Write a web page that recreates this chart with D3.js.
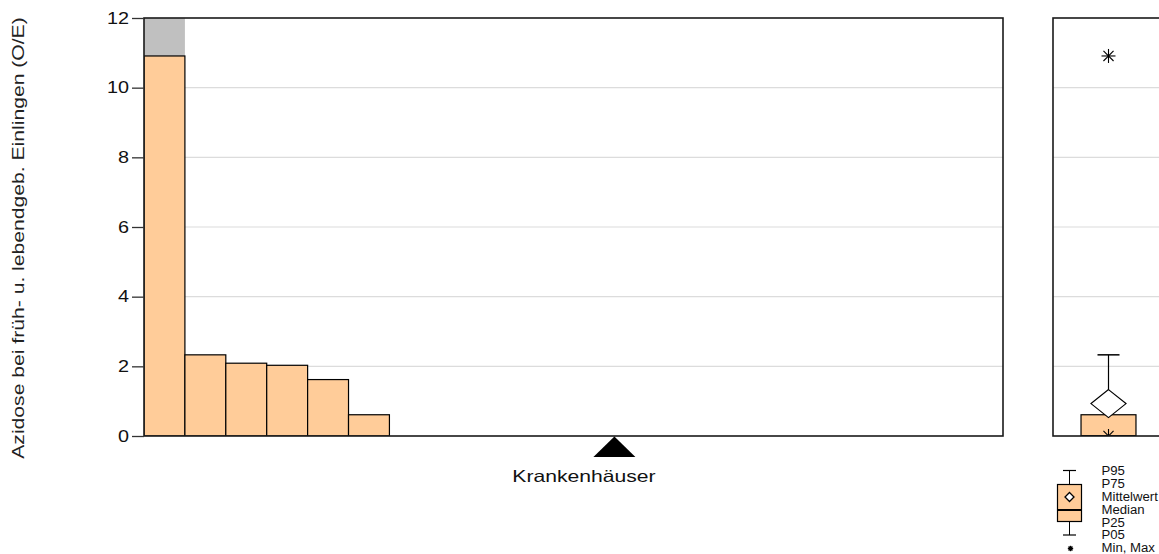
<!DOCTYPE html>
<html><head><meta charset="utf-8">
<script src="https://cdn.jsdelivr.net/npm/d3@7"></script>
<style>html,body{margin:0;padding:0;background:#fff;}svg{display:block;font-family:"Liberation Sans",Arial,sans-serif;}</style>
</head><body>
<svg id="c" width="1159" height="554"></svg>
<script>
// ---- data ----
const hospitals = ["KH01","KH02","KH03","KH04","KH05","KH06","KH07","KH08","KH09","KH10","KH11","KH12","KH13","KH14","KH15","KH16","KH17","KH18","KH19","KH20","KH21"];
const values    = [10.91, 2.33, 2.09, 2.03, 1.62, 0.61, 0, 0, 0, 0, 0, 0, 0, 0, 0, 0, 0, 0, 0, 0, 0];
const grayUpper = [12, null, null, null, null, null, null, null, null, null, null, null, null, null, null, null, null, null, null, null, null];
const markedHospital = ["KH12"];
const yTicks = [0, 2, 4, 6, 8, 10, 12];
const boxStats = {min: 0, p05: 0, p25: 0, median: 0, mean: 0.93, p75: 0.61, p95: 2.33, max: 10.91};
const legendLabels = ["P95", "P75", "Mittelwert", "Median", "P25", "P05", "Min, Max"];
const yTitle = "Azidose bei früh- u. lebendgeb. Einlingen (O/E)";
const xTitle = "Krankenhäuser";

// ---- layout ----
const svg = d3.select("#c");
const topY = 18, bottomY = 436;
const mainL = 144, mainR = 1003;
const boxL = 1053, boxR = 1164;
const peach = "#FFCC99", frame = "#1a1a1a";
const y = d3.scaleLinear().domain([0, 12]).range([bottomY, topY]);
const x = d3.scaleBand().domain(hospitals).range([mainL, mainR]).padding(0);
const xb = d3.scaleBand().domain(["all"]).range([boxL, boxR]).paddingInner(0).paddingOuter(0.51);

function stretch(sel, k){ sel.each(function(){ const w=this.getComputedTextLength(); d3.select(this).attr("textLength", w*k).attr("lengthAdjust","spacingAndGlyphs"); }); }

// clip paths
const defs = svg.append("defs");
defs.append("clipPath").attr("id","cm").append("rect").attr("x",mainL).attr("y",topY).attr("width",mainR-mainL).attr("height",bottomY-topY);
defs.append("clipPath").attr("id","cb").append("rect").attr("x",boxL).attr("y",topY).attr("width",boxR-boxL).attr("height",bottomY-topY);

// gridlines
[[mainL,mainR],[boxL,boxR]].forEach(([a,b])=>{
  svg.append("g").selectAll("line").data(yTicks.filter(t=>t>0 && t<12)).join("line")
    .attr("x1",a).attr("x2",b).attr("y1",d=>y(d)).attr("y2",d=>y(d))
    .attr("stroke","#dcdcdc").attr("stroke-width",1.2);
});

// bars
const gm = svg.append("g").attr("clip-path","url(#cm)");
gm.selectAll("rect.gray").data(hospitals.filter((h,i)=>grayUpper[i]!=null)).join("rect")
  .attr("x",h=>x(h)).attr("width",x.bandwidth())
  .attr("y",h=>y(grayUpper[hospitals.indexOf(h)])).attr("height",h=>y(values[hospitals.indexOf(h)])-y(grayUpper[hospitals.indexOf(h)]))
  .attr("fill","#c0c0c0");
gm.selectAll("rect.bar").data(hospitals.filter((h,i)=>values[i]>0)).join("rect")
  .attr("x",h=>x(h)).attr("width",x.bandwidth())
  .attr("y",h=>y(values[hospitals.indexOf(h)])).attr("height",h=>bottomY-y(values[hospitals.indexOf(h)]))
  .attr("fill",peach).attr("stroke","#000").attr("stroke-width",1.2);

// box plot
const gb = svg.append("g").attr("clip-path","url(#cb)");
const cx = xb("all") + xb.bandwidth()/2;
const bw = xb.bandwidth();
gb.append("line").attr("x1",cx).attr("x2",cx).attr("y1",y(boxStats.p75)).attr("y2",y(boxStats.p95)).attr("stroke","#000").attr("stroke-width",1.2);
gb.append("line").attr("x1",cx-11).attr("x2",cx+11).attr("y1",y(boxStats.p95)).attr("y2",y(boxStats.p95)).attr("stroke","#000").attr("stroke-width",1.5);
gb.append("rect").attr("x",cx-bw/2).attr("width",bw).attr("y",y(boxStats.p75)).attr("height",y(boxStats.p25)-y(boxStats.p75))
  .attr("fill",peach).attr("stroke","#000").attr("stroke-width",1.2);
gb.append("line").attr("x1",cx-bw/2).attr("x2",cx+bw/2).attr("y1",y(boxStats.median)).attr("y2",y(boxStats.median)).attr("stroke","#000").attr("stroke-width",2);
const my = y(boxStats.mean);
gb.append("path").attr("d",`M${cx},${my-14}L${cx+17.5},${my}L${cx},${my+14}L${cx-17.5},${my}Z`).attr("fill","#fff").attr("stroke","#000").attr("stroke-width",1.2);
function star(g, px, py, r, sw){
  const p = [[0,-r,0,r],[-r,0,r,0],[-r*0.72,-r*0.72,r*0.72,r*0.72],[-r*0.72,r*0.72,r*0.72,-r*0.72]];
  g.append("g").selectAll("line").data(p).join("line")
    .attr("x1",d=>px+d[0]).attr("y1",d=>py+d[1]).attr("x2",d=>px+d[2]).attr("y2",d=>py+d[3])
    .attr("stroke","#000").attr("stroke-width",sw);
}
star(gb, cx, y(boxStats.max), 7, 1.1);
star(gb, cx, y(boxStats.min), 7, 1.1);

// frames
svg.append("rect").attr("x",mainL).attr("y",topY).attr("width",mainR-mainL).attr("height",bottomY-topY).attr("fill","none").attr("stroke",frame).attr("stroke-width",1.6);
svg.append("rect").attr("x",boxL).attr("y",topY).attr("width",boxR-boxL).attr("height",bottomY-topY).attr("fill","none").attr("stroke",frame).attr("stroke-width",1.6);

// y axis
const ax = svg.append("g").attr("transform",`translate(${mainL},0)`)
  .call(d3.axisLeft(y).tickValues(yTicks).tickSize(12).tickPadding(3).tickFormat(d3.format("d")));
ax.select(".domain").remove();
ax.selectAll(".tick line").attr("stroke","#333").attr("stroke-width",1.3);
ax.selectAll(".tick text").attr("font-size",16.5).attr("fill","#111").attr("font-family","Liberation Sans, Arial, sans-serif").call(stretch,1.2);

// marker triangle
const mx = x(markedHospital[0]) + x.bandwidth()/2;
svg.append("path").attr("d",`M${mx},${bottomY+0.5}L${mx+21},${bottomY+21}L${mx-21},${bottomY+21}Z`).attr("fill","#000");

// x title
svg.append("text").attr("x",584).attr("y",482).attr("text-anchor","middle").attr("font-size",16.5).attr("fill","#111").text(xTitle).call(stretch,1.28);

// y title
svg.append("text").attr("transform","translate(24,238) rotate(-90)").attr("text-anchor","middle").attr("font-size",16.5).attr("fill","#222").text(yTitle).call(stretch,1.28);

// legend
const lg = svg.append("g");
const lx = 1069.5;
const ly = d3.scaleOrdinal().domain(legendLabels).range([470.5, 484, 497, 510, 522.5, 535, 547.5]);
lg.append("line").attr("x1",lx).attr("x2",lx).attr("y1",ly("P95")).attr("y2",ly("P05")).attr("stroke","#000");
lg.append("line").attr("x1",lx-6.5).attr("x2",lx+6.5).attr("y1",ly("P95")).attr("y2",ly("P95")).attr("stroke","#000").attr("stroke-width",1.2);
lg.append("line").attr("x1",lx-6.5).attr("x2",lx+6.5).attr("y1",ly("P05")).attr("y2",ly("P05")).attr("stroke","#000").attr("stroke-width",1.2);
lg.append("rect").attr("x",lx-12).attr("width",24).attr("y",ly("P75")+0.5).attr("height",ly("P25")-ly("P75")-1.5).attr("fill",peach).attr("stroke","#000").attr("stroke-width",1.2);
lg.append("line").attr("x1",lx-12).attr("x2",lx+12).attr("y1",ly("Median")).attr("y2",ly("Median")).attr("stroke","#000").attr("stroke-width",2);
const dy0 = ly("Mittelwert");
lg.append("path").attr("d",`M${lx},${dy0-4.5}L${lx+4.5},${dy0}L${lx},${dy0+4.5}L${lx-4.5},${dy0}Z`).attr("fill","#fff").attr("stroke","#000").attr("stroke-width",1.3);
star(lg, lx+1, ly("Min, Max")+1, 2.7, 1.4);
lg.selectAll("text").data(legendLabels).join("text")
  .attr("x",1101.5).attr("y",d=>ly(d)).attr("dy","0.33em").attr("font-size",12.3).attr("fill","#111").text(d=>d).call(stretch,1.07);
</script>
</body></html>
